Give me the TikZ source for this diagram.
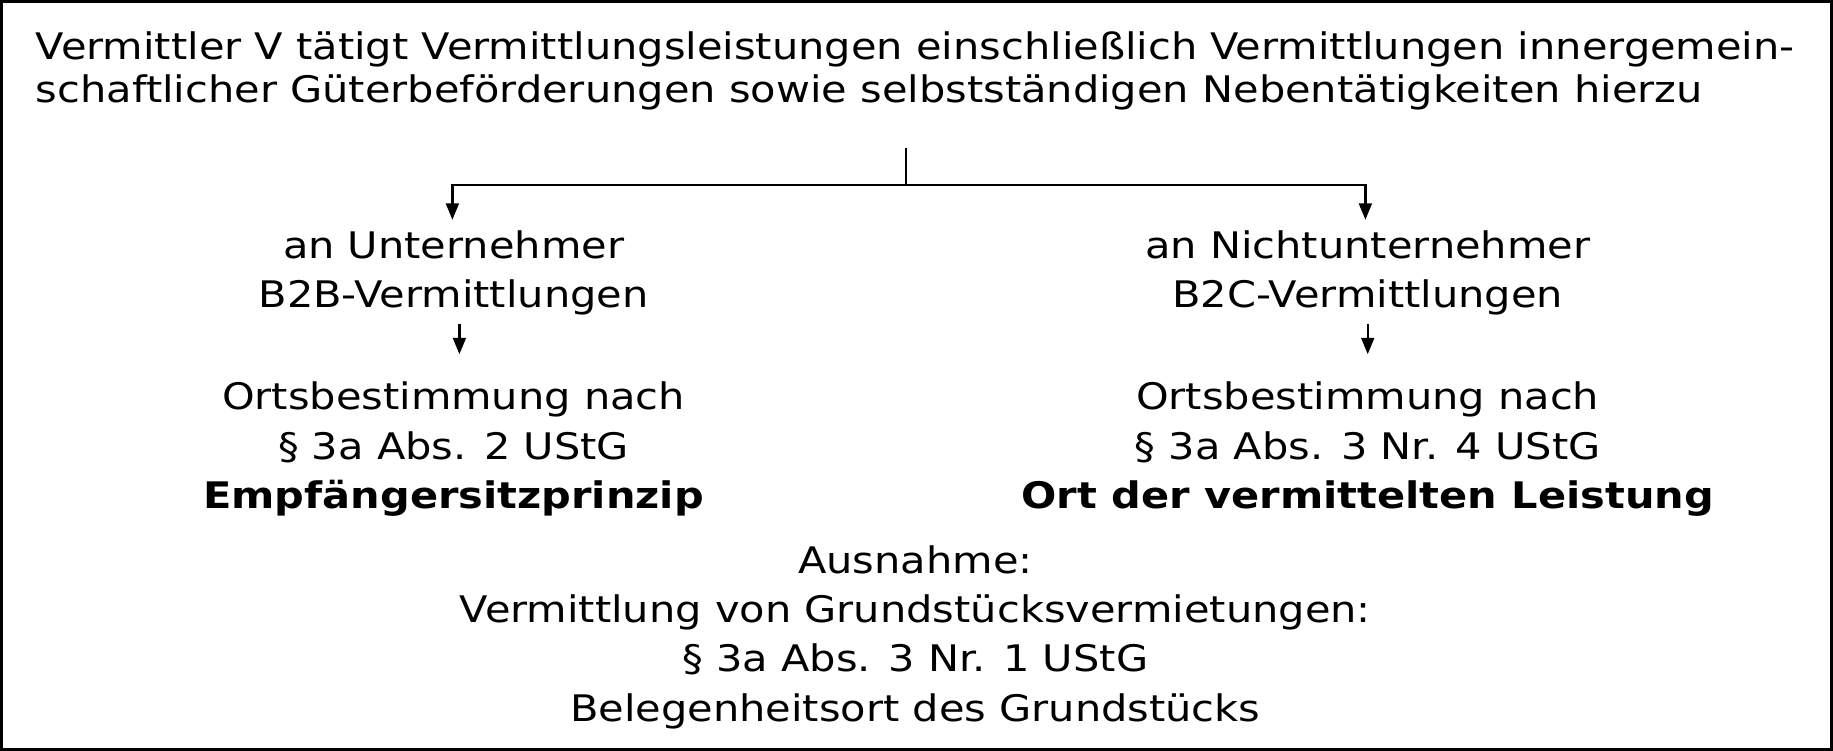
\documentclass[tikz,border=0pt]{standalone}
\usepackage{fontspec}
\setmainfont[FakeStretch=1.135]{DejaVu Sans}
\usetikzlibrary{arrows.meta}
\tikzset{
  txt/.style={inner sep=0pt, align=center, anchor=base, font=\fontsize{8.9}{12.0}\selectfont},
  ttl/.style={inner sep=0pt, align=left, anchor=base west, font=\fontsize{8.9}{10.5}\selectfont},
  conn/.style={line width=0.55pt},
  arr/.style={conn, -{Triangle[length=0.14cm,width=0.11cm]}},
}
\begin{document}
\begin{tikzpicture}[x=0.01cm,y=-0.01cm]
\useasboundingbox (0,0) rectangle (1568,642);
\draw[line width=0.8pt] (1,1) rectangle (1567,641);
\node[ttl] (title) at (30,88) {Vermittler V tätigt Vermittlungsleistungen einschließlich Vermittlungen innergemein-\\schaftlicher Güterbeförderungen sowie selbstständigen Nebentätigkeiten hierzu};
\coordinate (top) at (775,127);
\coordinate (split) at (775,158);
\coordinate (lc) at (387,158);
\coordinate (rc) at (1168,158);
\coordinate (lt) at (387,188);
\coordinate (rt) at (1168,188);
\node[txt] (b2b) at (388,263) {an Unternehmer\\B2B-Vermittlungen};
\node[txt] (b2c) at (1170,263) {an Nichtunternehmer\\B2C-Vermittlungen};
\node[txt] (lort) at (388,435) {Ortsbestimmung nach\\§ 3a Abs. 2 UStG\\\textbf{Empfängersitzprinzip}};
\node[txt] (rort) at (1170,435) {Ortsbestimmung nach\\§ 3a Abs. 3 Nr. 4 UStG\\\textbf{Ort der vermittelten Leistung}};
\node[txt] (aus) at (783,617) {Ausnahme:\\Vermittlung von Grundstücksvermietungen:\\§ 3a Abs. 3 Nr. 1 UStG\\Belegenheitsort des Grundstücks};
\coordinate (la1) at (393,277);
\coordinate (la2) at (393,303);
\coordinate (ra1) at (1170,277);
\coordinate (ra2) at (1170,303);
\draw[conn] (top) -- (split);
\draw[arr] (split) -- (lc) -- (lt);
\draw[arr] (split) -- (rc) -- (rt);
\draw[arr] (la1) -- (la2);
\draw[arr] (ra1) -- (ra2);
\end{tikzpicture}
\end{document}
